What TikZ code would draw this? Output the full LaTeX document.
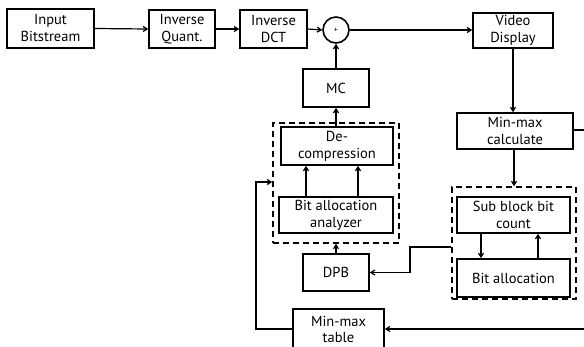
\documentclass[tikz,border=0pt]{standalone}
\usepackage{fontspec}
\setmainfont{PT Sans}
\usetikzlibrary{arrows.meta,calc}
\begin{document}
\begin{tikzpicture}[x=1pt,y=-1pt,
  every node/.style={font=\fontsize{14.5}{17}\selectfont},
  blk/.style={draw,line width=1.6pt,align=center,inner sep=0pt,minimum width=#1},
  blk/.default=66,
  dbox/.style={draw,line width=1.5pt,dash pattern=on 6pt off 4pt},
  conn/.style={line width=1.2pt,-{Straight Barb[length=4pt,width=5pt]}},
  plain/.style={line width=1.2pt}]
\clip (0,0) rectangle (584,346);
\fill[white] (0,0) rectangle (584,346);
% top row
\node[blk=87,minimum height=39] (inp) at (50.5,28.5) {Input\\Bitstream};
\node[blk=66,minimum height=38] (iq) at (182,29) {Inverse\\Quant.};
\node[blk=67,minimum height=38] (idct) at (273.5,29) {Inverse\\DCT};
\node[draw,line width=1.6pt,circle,minimum size=26,inner sep=0pt,font=\fontsize{8}{8}\selectfont] (sum) at (336,30) {+};
\node[blk=80,minimum height=35] (vd) at (513,30.5) {Video\\Display};
% left column
\node[blk=66,minimum height=38] (mc) at (336,88) {MC};
\node[blk=112,minimum height=38] (dec) at (337,146) {De-\\compression};
\node[blk=114,minimum height=36] (baa) at (336,215) {Bit allocation\\analyzer};
\node[dbox,minimum width=126,minimum height=120,inner sep=0pt] (db1) at (336,183) {};
\node[blk=66,minimum height=37] (dpb) at (336,272.5) {DPB};
\node[blk=91,minimum height=41,font=\fontsize{14.5}{15.5}\selectfont] (mmt) at (338.5,329.5) {Min-max\\table};
% right column
\node[blk=116,minimum height=36] (mmc) at (515,131) {Min-max\\calculate};
\node[dbox,minimum width=124,minimum height=112,inner sep=0pt] (db2) at (514,243) {};
\node[blk=113,minimum height=36] (sbbc) at (513.5,215) {Sub block bit\\count};
\node[blk=113,minimum height=38] (ba) at (513.5,278) {Bit allocation};
\coordinate (r1) at (584,130);
\coordinate (r2) at (584,329);
% connectors
\draw[conn] (inp.east) -- (iq.west);
\draw[conn] (iq.east) -- (idct.west);
\draw[conn] (idct.east) -- (sum.west);
\draw[conn] (sum.east) -- (vd.west |- sum.east);
\draw[conn] (mc.north) -- (sum.south);
\draw[conn] (dec.north -| mc.south) -- (mc.south);
\draw[conn] (baa.north -| 306,0) -- (dec.south -| 306,0);
\draw[conn] (baa.north -| 358,0) -- (dec.south -| 358,0);
\draw[conn] (dpb.north) -- (db1.south -| dpb.north);
\draw[conn] (vd.south) -- (mmc.north -| vd.south);
\draw[conn] (mmc.south -| 514,0) -- (db2.north -| 514,0);
\draw[conn] (sbbc.south -| 481,0) -- (ba.north -| 481,0);
\draw[conn] (ba.north -| 538,0) -- (sbbc.south -| 538,0);
\draw[conn] (db2.west |- 0,247) -- (410,247) |- (dpb.east);
\draw[plain] (mmc.east |- r1) -- (r1);
\draw[conn] (r2) -- (mmt.east |- r2);
\draw[conn] (mmt.west |- r2) -- (256,329) |- (db1.west |- 0,182);
\end{tikzpicture}
\end{document}
